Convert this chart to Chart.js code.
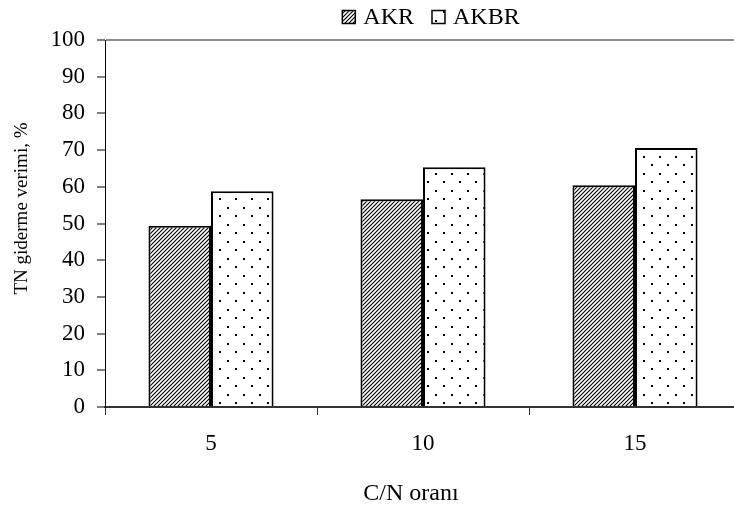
<!DOCTYPE html>
<html>
<head>
<meta charset="utf-8">
<script src="https://cdn.jsdelivr.net/npm/chart.js@4/dist/chart.umd.min.js"></script>
<style>
html,body{margin:0;padding:0;background:#fff;overflow:hidden;}
#wrap{width:741px;height:507px;position:relative;}
</style>
</head>
<body>
<div id="wrap"><canvas id="c"></canvas></div>
<script>
const categories = ['5', '10', '15'];
const seriesNames = ['AKR', 'AKBR'];
const akrValues = [49.4, 56.6, 60.4];
const akbrValues = [58.8, 65.3, 70.6];
const yTicks = [0, 10, 20, 30, 40, 50, 60, 70, 80, 90, 100];
const yTitle = 'TN giderme verimi, %';
const xTitle = 'C/N oranı';

const FONT = "'Liberation Serif', 'Times New Roman', serif";

function hatchPattern() {
  const c = document.createElement('canvas');
  c.width = 4; c.height = 4;
  const g = c.getContext('2d');
  g.fillStyle = '#fff'; g.fillRect(0, 0, 4, 4);
  g.strokeStyle = '#000'; g.lineWidth = 1.1;
  g.beginPath();
  g.moveTo(-1, 5); g.lineTo(5, -1);
  g.moveTo(-1, 1); g.lineTo(1, -1);
  g.moveTo(3, 5); g.lineTo(5, 3);
  g.stroke();
  return g.createPattern(c, 'repeat');
}
function dotPattern() {
  const c = document.createElement('canvas');
  c.width = 16; c.height = 17;
  const g = c.getContext('2d');
  g.fillStyle = '#fff'; g.fillRect(0, 0, 16, 17);
  g.fillStyle = '#000';
  g.fillRect(3, 3, 2, 2);
  g.fillRect(11, 11, 2, 2);
  return g.createPattern(c, 'repeat');
}
const fills = [hatchPattern(), dotPattern()];

const decorPlugin = {
  id: 'decor',
  afterDraw(chart) {
    const ctx = chart.ctx;
    const area = chart.chartArea;
    ctx.save();
    // legend
    ctx.font = "24px " + FONT;
    ctx.textBaseline = 'middle';
    const box = 13, gapText = 8, gapItem = 18;
    let total = 0;
    chart.data.datasets.forEach((d, i) => {
      total += box + gapText + ctx.measureText(d.label).width + (i ? gapItem : 0);
    });
    let x = (area.left + area.right) / 2 - total / 2 + 8;
    const yc = 17;
    chart.data.datasets.forEach((d, i) => {
      if (i) x += gapItem;
      ctx.fillStyle = d.backgroundColor;
      ctx.fillRect(x, yc - box / 2, box, box);
      ctx.strokeStyle = '#000'; ctx.lineWidth = 1.5;
      ctx.strokeRect(x, yc - box / 2, box, box);
      x += box + gapText;
      ctx.fillStyle = '#000';
      ctx.fillText(d.label, x, yc + 1);
      x += ctx.measureText(d.label).width;
    });
    // axis titles
    ctx.fillStyle = '#000';
    ctx.textAlign = 'center';
    ctx.font = "24px " + FONT;
    ctx.fillText(xTitle, (area.left + area.right) / 2 - 12, 494);
    ctx.font = "19px " + FONT;
    ctx.translate(22, (area.top + area.bottom) / 2 - 15);
    ctx.rotate(-Math.PI / 2);
    ctx.fillText(yTitle, 0, 0);
    ctx.restore();
  }
};

new Chart(document.getElementById('c'), {
  type: 'bar',
  data: {
    labels: categories,
    datasets: [
      { label: seriesNames[0], data: akrValues, backgroundColor: fills[0], borderColor: '#000', borderWidth: 2 },
      { label: seriesNames[1], data: akbrValues, backgroundColor: fills[1], borderColor: '#000', borderWidth: 2 }
    ]
  },
  options: {
    responsive: true,
    maintainAspectRatio: false,
    animation: false,
    devicePixelRatio: 1,
    layout: { padding: { top: 40, right: 0, bottom: 0, left: 0 } },
    datasets: { bar: { categoryPercentage: 0.59, barPercentage: 1.0 } },
    plugins: {
      legend: { display: false },
      tooltip: { enabled: false }
    },
    scales: {
      x: {
        offset: true,
        grid: { offset: true, drawOnChartArea: false, drawTicks: true, tickLength: 8, tickColor: '#333', tickWidth: 1 },
        border: { display: true, color: '#333', width: 2 },
        ticks: { color: '#000', padding: 15, font: { family: FONT, size: 23 } },
        title: { display: false },
        afterFit(s) { s.height = 100; }
      },
      y: {
        min: 0, max: 100,
        afterBuildTicks(s) { s.ticks = yTicks.map(v => ({ value: v })); },
        grid: {
          drawTicks: true, tickLength: 8, tickColor: '#000', tickWidth: 1,
          color: (c) => (c.tick && c.tick.value === 100) ? '#8c8c8c' : 'rgba(0,0,0,0)',
          lineWidth: 2
        },
        border: { display: true, color: '#000', width: 1 },
        ticks: { color: '#000', padding: 12, font: { family: FONT, size: 23 } },
        title: { display: false },
        afterFit(s) { s.width = 105; }
      }
    }
  },
  plugins: [decorPlugin]
});
</script>
</body>
</html>
